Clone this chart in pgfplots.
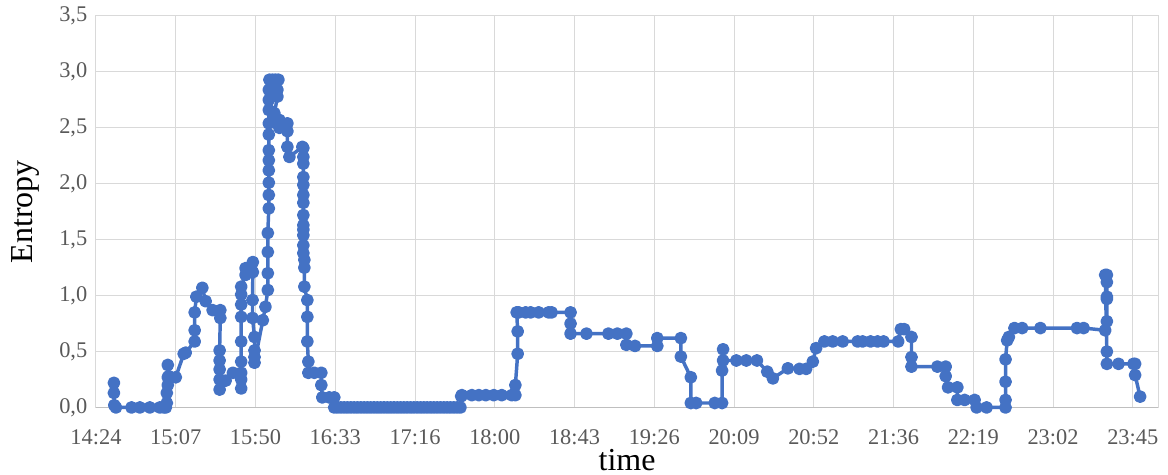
\documentclass[border=0pt]{standalone}
\usepackage{fontspec}
\setmainfont{Liberation Serif}
\usepackage{pgfplots}
\pgfplotsset{compat=1.18}
\definecolor{lineblue}{HTML}{4472C4}
\definecolor{gridgray}{HTML}{D9D9D9}
\definecolor{axisgray}{HTML}{BFBFBF}
\definecolor{ticktext}{HTML}{595959}
\begin{document}
\begin{tikzpicture}
\path[use as bounding box] (-72pt,-50.6pt) rectangle (804pt,305.6pt);
\begin{axis}[
  at={(0,0)}, anchor=south west,
  scale only axis, width=796.7pt, height=293.6pt,
  xmin=14.4, xmax=23.99, ymin=0, ymax=3.5,
  xtick={14.4,15.12,15.84,16.56,17.28,18.0,18.72,19.44,20.16,20.88,21.6,22.32,23.04,23.76},
  xticklabels={14:24,15:07,15:50,16:33,17:16,18:00,18:43,19:26,20:09,20:52,21:36,22:19,23:02,23:45},
  ytick={0,0.5,1,1.5,2,2.5,3,3.5},
  grid=major, major grid style={gridgray, line width=0.75pt},
  axis line style={gridgray, line width=0.75pt},
  major tick length=0pt,
  clip=false,
  tick label style={font=\fontsize{16.8}{19}\selectfont, text=ticktext},
  xticklabel style={anchor=center, yshift=-22pt},
  yticklabel style={xshift=-3pt},
  /pgf/number format/use comma,
  /pgf/number format/fixed,
  /pgf/number format/fixed zerofill,
  /pgf/number format/precision=1,
  /pgf/number format/assume math mode=true,
  xlabel={time}, ylabel={Entropy},
  every axis x label/.style={at={(axis description cs:0.5,-0.134)}, anchor=center, font=\fontsize{24}{28}\selectfont},
  every axis y label/.style={at={(axis description cs:-0.0668,0.5)}, rotate=90, anchor=center, font=\fontsize{24}{28}\selectfont},
]
\draw[axisgray, line width=1pt] (rel axis cs:0,0) -- (rel axis cs:1,0);
\addplot[lineblue, line width=2.6pt, line join=round, mark=*, mark size=3.5pt,
  mark options={solid, fill=lineblue, draw=none}] table {
x y
14.562 0.22
14.562 0.13
14.565 0.02
14.58 0.0
14.721 0.0
14.796 0.0
14.886 0.0
14.976 0.0
15.012 0.0
15.03 0.0
15.039 0.04
15.039 0.13
15.048 0.2
15.048 0.27
15.048 0.38
15.057 0.28
15.12 0.27
15.192 0.48
15.21 0.49
15.291 0.59
15.291 0.69
15.291 0.85
15.306 0.99
15.36 1.07
15.39 0.95
15.453 0.87
15.522 0.87
15.522 0.80
15.516 0.51
15.516 0.42
15.516 0.34
15.516 0.25
15.516 0.16
15.57 0.24
15.636 0.31
15.711 0.31
15.711 0.17
15.711 0.25
15.711 0.41
15.711 0.59
15.711 0.81
15.711 0.92
15.711 1.01
15.711 1.08
15.75 1.185
15.75 1.245
15.816 1.30
15.816 1.21
15.813 0.96
15.813 0.80
15.831 0.63
15.831 0.51
15.831 0.45
15.831 0.40
15.906 0.78
15.93 0.9
15.951 1.05
15.951 1.2
15.951 1.39
15.951 1.56
15.96 1.78
15.96 1.90
15.96 2.01
15.96 2.12
15.96 2.21
15.96 2.30
15.96 2.44
15.96 2.54
15.96 2.66
15.96 2.75
15.96 2.84
15.966 2.93
15.993 2.93
16.02 2.93
16.047 2.93
16.038 2.84
16.038 2.78
16.011 2.63
16.056 2.57
16.056 2.50
16.092 2.52
16.128 2.54
16.128 2.47
16.128 2.33
16.146 2.24
16.263 2.33
16.272 2.32
16.272 2.24
16.272 2.18
16.272 2.06
16.272 1.99
16.272 1.90
16.272 1.83
16.272 1.72
16.272 1.63
16.272 1.59
16.272 1.54
16.272 1.45
16.272 1.38
16.281 1.32
16.281 1.25
16.281 1.08
16.308 0.96
16.308 0.81
16.308 0.59
16.317 0.41
16.317 0.31
16.371 0.31
16.434 0.31
16.434 0.20
16.443 0.09
16.506 0.09
16.551 0.09
16.551 0.0
16.58 0.0
16.61 0.0
16.64 0.0
16.67 0.0
16.70 0.0
16.73 0.0
16.76 0.0
16.79 0.0
16.82 0.0
16.85 0.0
16.88 0.0
16.91 0.0
16.94 0.0
16.97 0.0
17.00 0.0
17.03 0.0
17.06 0.0
17.09 0.0
17.12 0.0
17.15 0.0
17.18 0.0
17.21 0.0
17.24 0.0
17.27 0.0
17.30 0.0
17.33 0.0
17.36 0.0
17.39 0.0
17.42 0.0
17.45 0.0
17.48 0.0
17.51 0.0
17.54 0.0
17.57 0.0
17.60 0.0
17.63 0.0
17.66 0.0
17.69 0.0
17.697 0.1
17.703 0.11
17.793 0.11
17.856 0.11
17.919 0.11
17.991 0.11
18.063 0.11
18.153 0.11
18.186 0.11
18.186 0.20
18.207 0.48
18.207 0.68
18.198 0.85
18.216 0.85
18.279 0.85
18.324 0.85
18.396 0.85
18.486 0.85
18.513 0.85
18.684 0.85
18.684 0.75
18.684 0.66
18.828 0.66
19.026 0.66
19.107 0.66
19.188 0.66
19.188 0.56
19.266 0.55
19.467 0.55
19.467 0.62
19.68 0.62
19.68 0.455
19.77 0.27
19.77 0.04
19.818 0.04
19.986 0.04
20.052 0.04
20.052 0.33
20.061 0.52
20.061 0.42
20.181 0.42
20.271 0.42
20.367 0.42
20.46 0.32
20.511 0.26
20.646 0.35
20.751 0.345
20.811 0.345
20.871 0.41
20.901 0.53
20.976 0.59
21.051 0.59
21.141 0.59
21.276 0.59
21.321 0.59
21.393 0.59
21.456 0.59
21.51 0.59
21.642 0.59
21.666 0.70
21.696 0.70
21.762 0.63
21.762 0.45
21.762 0.365
21.996 0.365
22.071 0.365
22.071 0.28
22.092 0.18
22.176 0.18
22.176 0.067
22.242 0.067
22.332 0.067
22.35 0.0
22.44 0.0
22.611 0.0
22.611 0.067
22.611 0.23
22.611 0.43
22.626 0.60
22.641 0.63
22.692 0.71
22.761 0.71
22.926 0.71
23.256 0.71
23.316 0.71
23.511 0.69
23.526 0.77
23.526 0.97
23.526 0.99
23.526 1.12
23.526 1.185
23.511 1.185
23.526 0.50
23.526 0.39
23.631 0.39
23.766 0.39
23.781 0.39
23.781 0.29
23.826 0.097
};
\end{axis}
\end{tikzpicture}
\end{document}
